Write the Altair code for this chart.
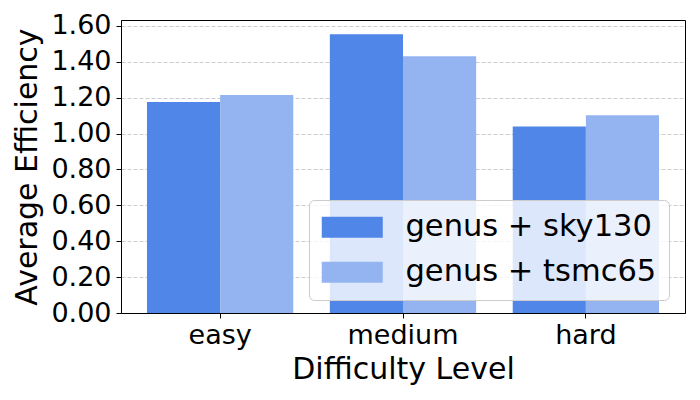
import altair as alt
import pandas as pd

categories = ["easy", "medium", "hard"]
series = ["genus + sky130", "genus + tsmc65"]
sky130 = [1.176, 1.553, 1.040]
tsmc65 = [1.215, 1.431, 1.102]
colors = ["#4f86e8", "#94b4f1"]
y_ticks = [0.0, 0.2, 0.4, 0.6, 0.8, 1.0, 1.2, 1.4, 1.6]

rows = []
for c, a, b in zip(categories, sky130, tsmc65):
    rows.append({"difficulty": c, "config": series[0], "eff": a})
    rows.append({"difficulty": c, "config": series[1], "eff": b})
df = pd.DataFrame(rows)

FONT = "DejaVu Sans"

chart = alt.Chart(df).mark_bar().encode(
    x=alt.X("difficulty:N", sort=categories, title="Difficulty Level",
            scale=alt.Scale(paddingInner=0.2, paddingOuter=0.142),
            axis=alt.Axis(labelAngle=0, labelFontSize=27, labelFont=FONT, labelColor="black",
                          titleFontSize=30, titleFont=FONT, titleFontWeight="normal", titleColor="black",
                          tickColor="black", tickSize=5, tickWidth=1, labelPadding=4, titlePadding=6,
                          domain=True, domainColor="black", grid=False)),
    xOffset=alt.XOffset("config:N", sort=series),
    y=alt.Y("eff:Q", title="Average Efficiency",
            scale=alt.Scale(domain=[0, 1.633], nice=False, zero=True),
            axis=alt.Axis(values=y_ticks, format=".2f", labelFontSize=27, labelFont=FONT, labelColor="black",
                          titleFontSize=30, titleFont=FONT, titleFontWeight="normal", titleColor="black",
                          tickColor="black", tickSize=5, tickWidth=1, labelPadding=5, titlePadding=8,
                          domain=True, domainColor="black",
                          grid=True, gridColor="#cccccc", gridDash=[4, 2], gridWidth=1)),
    color=alt.Color("config:N", sort=series,
                    scale=alt.Scale(domain=series, range=colors),
                    legend=alt.Legend(title=None, orient="none", legendX=188, legendY=180,
                                      labelFontSize=30.5, labelFont=FONT, labelColor="black", labelLimit=400,
                                      symbolType="M-1.38,-1L4.43,-1L4.43,1L-1.38,1Z", symbolSize=441,
                                      symbolStrokeWidth=0, symbolOpacity=1, labelOffset=54,
                                      rowPadding=14, padding=12,
                                      fillColor="rgba(255,255,255,0.8)", strokeColor="#cccccc",
                                      cornerRadius=5)),
).properties(
    width=564, height=293,
    autosize=alt.AutoSizeParams(type="none"),
    padding={"left": 113, "top": 12, "right": 7, "bottom": 79},
).configure_view(stroke="black", strokeWidth=1)

chart.save("out.html", embed_options={"renderer": "svg", "actions": False})
